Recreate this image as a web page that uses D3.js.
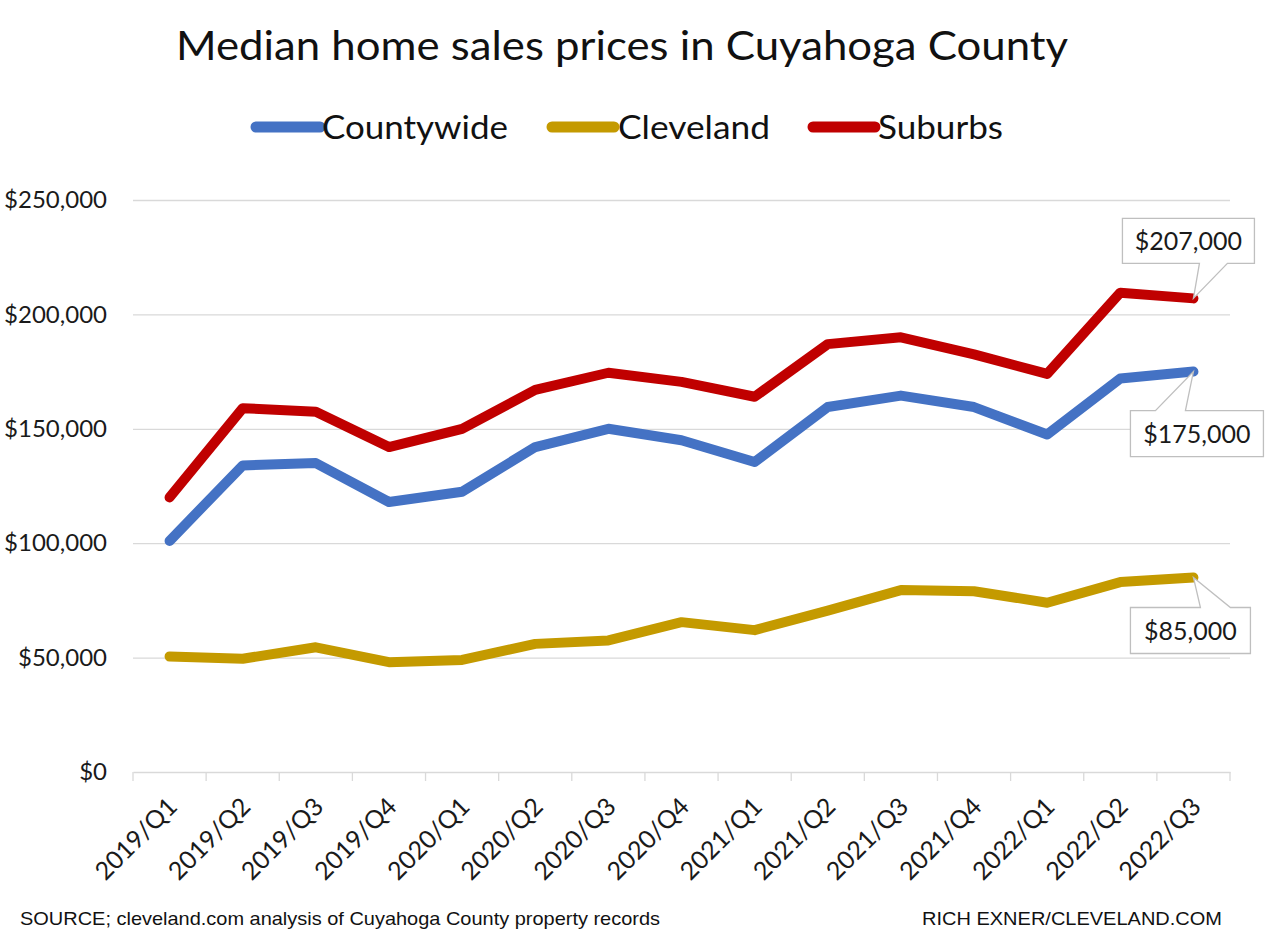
<!DOCTYPE html>
<html>
<head>
<meta charset="utf-8">
<script src="https://cdn.jsdelivr.net/npm/d3@7"></script>
<style>
  html, body { margin: 0; padding: 0; background: #ffffff; }
  svg { display: block; }
</style>
</head>
<body>
<svg id="chart" width="1280" height="938"></svg>
<script>
// ---------- DATA ----------
const categories = ["2019/Q1","2019/Q2","2019/Q3","2019/Q4","2020/Q1","2020/Q2","2020/Q3","2020/Q4",
                    "2021/Q1","2021/Q2","2021/Q3","2021/Q4","2022/Q1","2022/Q2","2022/Q3"];
const countywide = [101000,134000,135000,118000,122500,142000,150000,145000,135500,159500,164500,159500,147500,172000,175000];
const cleveland  = [50500,49500,54500,48000,49000,56000,57500,65500,62000,70500,79500,79000,74000,83000,85000];
const suburbs    = [120000,159000,157500,142000,150000,167000,174500,170500,164000,187000,190000,182500,174000,209500,207000];
const yTicks = [0,50000,100000,150000,200000,250000];
const seriesNames = ["Countywide","Cleveland","Suburbs"];
const titleText = "Median home sales prices in Cuyahoga County";
const sourceText = "SOURCE; cleveland.com analysis of Cuyahoga County property records";
const creditText = "RICH EXNER/CLEVELAND.COM";

// ---------- SETUP ----------
const colors = {Countywide: "#4472C4", Cleveland: "#C49A00", Suburbs: "#C00000"};
const seriesData = {Countywide: countywide, Cleveland: cleveland, Suburbs: suburbs};
const svg = d3.select("#chart");
const font = "Lato, 'Open Sans', sans-serif";

const plot = {left: 133, right: 1230, top: 200, bottom: 772};
const x = d3.scaleBand().domain(categories).range([plot.left, plot.right]).padding(0);
const y = d3.scaleLinear().domain([0, 250000]).range([plot.bottom, plot.top]);
const cx = c => x(c) + x.bandwidth() / 2;

// Title
svg.append("text")
  .attr("x", 622).attr("y", 60)
  .attr("text-anchor", "middle")
  .attr("font-family", font).attr("font-size", 40).attr("fill", "#111")
  .attr("textLength", 892).attr("lengthAdjust", "spacingAndGlyphs")
  .text(titleText);

// Legend
const legendItems = [
  {name: "Countywide", sx: 256, sw: 64, tx: 322, tw: 186},
  {name: "Cleveland", sx: 552, sw: 62, tx: 618, tw: 152},
  {name: "Suburbs", sx: 813, sw: 62, tx: 878, tw: 125}
];
const lg = svg.append("g");
legendItems.forEach(it => {
  lg.append("line")
    .attr("x1", it.sx).attr("x2", it.sx + it.sw)
    .attr("y1", 127).attr("y2", 127)
    .attr("stroke", colors[it.name]).attr("stroke-width", 11).attr("stroke-linecap", "round");
  lg.append("text")
    .attr("x", it.tx).attr("y", 139)
    .attr("font-family", font).attr("font-size", 33).attr("fill", "#111")
    .attr("textLength", it.tw).attr("lengthAdjust", "spacingAndGlyphs")
    .text(it.name);
});

// Gridlines
const grid = svg.append("g").attr("transform", `translate(${plot.left},0)`)
  .call(d3.axisLeft(y).tickValues(yTicks.filter(d => d > 0)).tickSize(-(plot.right - plot.left)).tickFormat(""));
grid.select(".domain").remove();
grid.selectAll("line").attr("stroke", "#d9d9d9").attr("stroke-width", 1.3);

// Y axis labels
const yAxis = svg.append("g").attr("transform", `translate(${plot.left},0)`)
  .call(d3.axisLeft(y).tickValues(yTicks).tickSize(0).tickPadding(26)
    .tickFormat(d => "$" + d3.format(",")(d)));
yAxis.select(".domain").remove();
yAxis.selectAll("text")
  .attr("font-family", font).attr("font-size", 24).attr("fill", "#1a1a1a");

// X axis
const xAxis = svg.append("g").attr("transform", `translate(0,${plot.bottom})`)
  .call(d3.axisBottom(x).tickSize(0));
xAxis.select(".domain").attr("stroke", "#d9d9d9").attr("stroke-width", 1.3);
xAxis.selectAll(".tick text")
  .attr("font-family", font).attr("font-size", 25).attr("fill", "#1a1a1a")
  .attr("x", 0).attr("y", 0).attr("dy", "0.35em")
  .attr("text-anchor", "end")
  .attr("transform", "translate(3,30) rotate(-45)");
// tick marks at category boundaries
const boundaries = categories.map(c => x(c)).concat([x(categories[categories.length - 1]) + x.bandwidth()]);
xAxis.selectAll("line.bound").data(boundaries).enter().append("line")
  .attr("class", "bound")
  .attr("x1", d => d).attr("x2", d => d).attr("y1", 0).attr("y2", 9)
  .attr("stroke", "#d9d9d9").attr("stroke-width", 1.3);

// Lines
const line = d3.line().x((d, i) => cx(categories[i])).y(d => y(d));
seriesNames.forEach(name => {
  svg.append("path")
    .datum(seriesData[name])
    .attr("d", line)
    .attr("fill", "none")
    .attr("stroke", colors[name])
    .attr("stroke-width", 10)
    .attr("stroke-linejoin", "round")
    .attr("stroke-linecap", "round");
});

// Callouts on last points
const last = categories.length - 1;
const callouts = [
  {name: "Suburbs",    bx0: -71, bx1: 61, by0: -80, by1: -35, w1: 6,   w2: 34, side: "bottom"},
  {name: "Countywide", bx0: -63, bx1: 70, by0: 39,  by1: 85,  w1: -38, w2: -8, side: "top"},
  {name: "Cleveland",  bx0: -63, bx1: 57, by0: 30,  by1: 76,  w1: 7,   w2: 37, side: "top"}
];
callouts.forEach(c => {
  const px = cx(categories[last]);
  const py = y(seriesData[c.name][last]);
  let d;
  if (c.side === "bottom") {
    d = `M${c.bx0},${c.by0}H${c.bx1}V${c.by1}H${c.w2}L0,0L${c.w1},${c.by1}H${c.bx0}Z`;
  } else {
    d = `M${c.bx0},${c.by0}H${c.w1}L0,0L${c.w2},${c.by0}H${c.bx1}V${c.by1}H${c.bx0}Z`;
  }
  const g = svg.append("g").attr("transform", `translate(${px},${py})`);
  g.append("path").attr("d", d)
    .attr("fill", "#ffffff").attr("stroke", "#bfbfbf").attr("stroke-width", 1.3);
  g.append("text")
    .attr("x", (c.bx0 + c.bx1) / 2).attr("y", (c.by0 + c.by1) / 2)
    .attr("dy", "0.36em")
    .attr("text-anchor", "middle")
    .attr("font-family", font).attr("font-size", 25).attr("fill", "#1a1a1a")
    .text("$" + d3.format(",")(seriesData[c.name][last]));
});

// Footer
svg.append("text")
  .attr("x", 20).attr("y", 925)
  .attr("font-family", "'Liberation Sans', Arial, sans-serif").attr("font-size", 19).attr("fill", "#111")
  .attr("textLength", 640).attr("lengthAdjust", "spacingAndGlyphs")
  .text(sourceText);
svg.append("text")
  .attr("x", 1222).attr("y", 925)
  .attr("text-anchor", "end")
  .attr("font-family", "'Liberation Sans', Arial, sans-serif").attr("font-size", 19).attr("fill", "#111")
  .attr("textLength", 300).attr("lengthAdjust", "spacingAndGlyphs")
  .text(creditText);
</script>
</body>
</html>
